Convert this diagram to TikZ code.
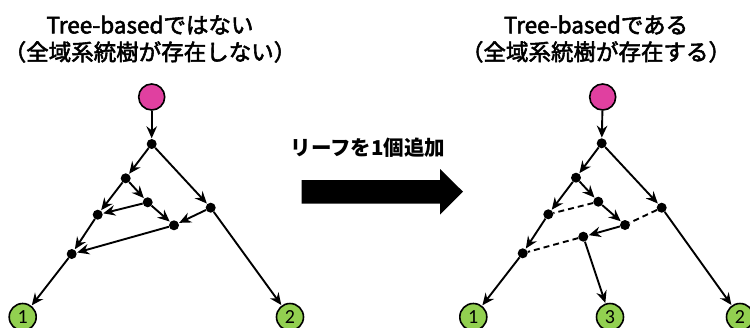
\documentclass[tikz,border=0pt]{standalone}
\usepackage{fontspec}
\setmainfont{Noto Sans CJK JP}
\newfontfamily\digitfont{Carlito}
\usetikzlibrary{arrows.meta}
\definecolor{rootpink}{HTML}{E040A0}
\definecolor{leafgreen}{HTML}{92D050}
\newcommand{\heavytext}[1]{\special{pdf:literal direct 2 Tr 0.55 w}#1\special{pdf:literal direct 0 Tr 1 w}}
\begin{document}
\begin{tikzpicture}[x=1pt,y=-1pt,
  dot/.style={circle,fill=black,inner sep=0pt,minimum size=10pt},
  rootnode/.style={circle,draw=black,line width=1.6pt,fill=rootpink,inner sep=0pt,minimum size=26pt},
  leafnode/.style={circle,draw=black,line width=1.6pt,fill=leafgreen,inner sep=0pt,minimum size=27pt,font=\digitfont\fontsize{20}{20}\selectfont},
  edge/.style={line width=1.9pt,-{Stealth[length=12pt,width=10.5pt,inset=4pt]},shorten >=0.5pt},
  dashedge/.style={line width=1.9pt,dash pattern=on 6pt off 4pt},
  title/.style={align=center,font=\fontsize{22.5}{27}\selectfont},
]
\useasboundingbox (0,0) rectangle (750,327);
% titles
\node[title] (t1) at (150,39) {\heavytext{Tree-basedではない}\\\heavytext{（全域系統樹が存在しない）}};
\node[title] (t2) at (596,39) {\heavytext{Tree-basedである}\\\heavytext{（全域系統樹が存在する）}};
% middle
\node[font=\bfseries\fontsize{20.5}{20.5}\selectfont] (lbl) at (368,148) {リーフを1個追加};
\fill (301.5,180) -- (440,180) -- (440,169) -- (463,191.7) -- (440,214.5) -- (440,203.5) -- (301.5,203.5) -- cycle;
% left graph
\node[rootnode] (lr) at (151.7,97) {};
\node[dot] (la) at (151.7,144) {};
\node[dot] (lb) at (125.7,178.3) {};
\node[dot] (lc) at (147.7,202.3) {};
\node[dot] (ld) at (97.7,214.7) {};
\node[dot] (le) at (174,225.3) {};
\node[dot] (lf) at (210.7,207.7) {};
\node[dot] (lg) at (71.7,254) {};
\node[leafnode] (l1) at (22.7,317) {1};
\node[leafnode] (l2) at (290,317) {2};
\draw[edge] (lr) -- (la);
\draw[edge] (la) -- (lb);
\draw[edge] (la) -- (lf);
\draw[edge] (lb) -- (ld);
\draw[edge] (lb) -- (lc);
\draw[edge] (lc) -- (ld);
\draw[edge] (lc) -- (le);
\draw[edge] (lf) -- (le);
\draw[edge] (le) -- (lg);
\draw[edge] (ld) -- (lg);
\draw[edge] (lg) -- (l1);
\draw[edge] (lf) -- (l2);
% right graph
\node[rootnode] (rr) at (602.7,97) {};
\node[dot] (ra) at (601.7,143.3) {};
\node[dot] (rb) at (576,177.7) {};
\node[dot] (rc) at (598.3,201.7) {};
\node[dot] (rd) at (548.3,214.3) {};
\node[dot] (re) at (625,225) {};
\node[dot] (rf) at (661.7,207.7) {};
\node[dot] (rh) at (583.3,236.7) {};
\node[dot] (rg) at (522.7,253.3) {};
\node[leafnode] (r1) at (473.3,317) {1};
\node[leafnode] (r3) at (610,317) {3};
\node[leafnode] (r2) at (740,317) {2};
\draw[edge] (rr) -- (ra);
\draw[edge] (ra) -- (rb);
\draw[edge] (ra) -- (rf);
\draw[edge] (rb) -- (rd);
\draw[edge] (rb) -- (rc);
\draw[dashedge] (rc) -- (rd);
\draw[edge] (rc) -- (re);
\draw[dashedge] (rf) -- (re);
\draw[edge] (re) -- (rh);
\draw[dashedge] (rh) -- (rg);
\draw[edge] (rd) -- (rg);
\draw[edge] (rg) -- (r1);
\draw[edge] (rh) -- (r3);
\draw[edge] (rf) -- (r2);
\end{tikzpicture}
\end{document}
